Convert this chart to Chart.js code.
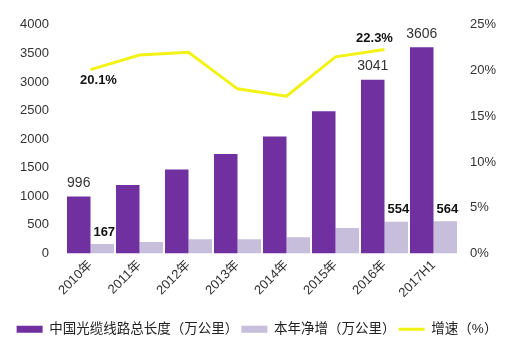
<!DOCTYPE html>
<html>
<head>
<meta charset="utf-8">
<script src="https://cdn.jsdelivr.net/npm/chart.js@4"></script>
<style>
  html, body { margin: 0; padding: 0; background: #fff; }
  #wrap { width: 514px; height: 348px; position: relative; }
</style>
</head>
<body>
<div id="wrap"><canvas id="fiberChart"></canvas></div>
<script>
const years = ['2010年', '2011年', '2012年', '2013年', '2014年', '2015年', '2016年', '2017H1'];
const totalLength = [996, 1200, 1470, 1740, 2046, 2487, 3041, 3606];
const netIncrease = [167, 200, 250, 250, 285, 445, 554, 564];
const growthRate = [20.1, 21.7, 22.0, 18.0, 17.2, 21.5, 22.3, null];

// which points carry a value label
const totalLabelIdx = [0, 6, 7];
const netLabelIdx = [0, 6, 7];
const rateLabelIdx = [0, 6];

const FONT = "Arial, 'Liberation Sans', 'Noto Sans CJK SC', sans-serif";

const valueLabels = {
    id: 'valueLabels',
    afterDatasetsDraw(chart) {
        const ctx = chart.ctx;
        ctx.save();
        ctx.textAlign = 'center';
        ctx.textBaseline = 'middle';

        const totals = chart.getDatasetMeta(0).data;
        ctx.font = '14px ' + FONT;
        ctx.fillStyle = '#333';
        totalLabelIdx.forEach(i => {
            ctx.fillText(totalLength[i], totals[i].x, totals[i].y - 13);
        });

        const nets = chart.getDatasetMeta(1).data;
        ctx.font = 'bold 13px ' + FONT;
        ctx.fillStyle = '#111';
        netLabelIdx.forEach(i => {
            ctx.fillText(netIncrease[i], nets[i].x + 2, nets[i].y - 12);
        });

        const pts = chart.getDatasetMeta(2).data;
        rateLabelIdx.forEach(i => {
            const p = pts[i];
            const dx = i === 0 ? 8 : -10;
            const dy = i === 0 ? 11 : -11;
            ctx.fillText(growthRate[i].toFixed(1) + '%', p.x + dx, p.y + dy);
        });
        ctx.restore();
    }
};

const ctx = document.getElementById('fiberChart').getContext('2d');
new Chart(ctx, {
    data: {
        labels: years,
        datasets: [
            {
                type: 'bar',
                label: '中国光缆线路总长度（万公里）',
                data: totalLength,
                backgroundColor: '#7030a0',
                yAxisID: 'y',
                barPercentage: 1.0,
                categoryPercentage: 0.96,
                pointStyle: 'rect',
                order: 2
            },
            {
                type: 'bar',
                label: '本年净增（万公里）',
                data: netIncrease,
                backgroundColor: '#c6bedb',
                yAxisID: 'y',
                barPercentage: 1.0,
                categoryPercentage: 0.96,
                pointStyle: 'rect',
                order: 2
            },
            {
                type: 'line',
                label: '增速（%）',
                data: growthRate,
                borderColor: '#f2f215',
                backgroundColor: '#f2f215',
                borderWidth: 3,
                pointRadius: 0,
                tension: 0,
                yAxisID: 'y1',
                pointStyle: 'line',
                order: 1
            }
        ]
    },
    options: {
        responsive: true,
        maintainAspectRatio: false,
        animation: false,
        layout: { padding: { top: 12, bottom: 2, left: 0, right: 0 } },
        plugins: {
            tooltip: { enabled: false },
            legend: {
                position: 'bottom',
                labels: {
                    usePointStyle: true,
                    pointStyleWidth: 26,
                    boxHeight: 7,
                    padding: 3,
                    color: '#222',
                    font: { family: FONT, size: 13.5 },
                    sort: (a, b) => a.datasetIndex - b.datasetIndex
                }
            }
        },
        scales: {
            x: {
                grid: { display: false, drawTicks: false },
                border: { display: false },
                ticks: {
                    color: '#333',
                    font: { family: FONT, size: 13 },
                    minRotation: 45,
                    maxRotation: 45,
                    padding: 4
                },
                afterFit: s => { s.height = 66; }
            },
            y: {
                position: 'left',
                min: 0,
                max: 4000,
                grid: { display: false, drawTicks: false },
                border: { display: false },
                ticks: {
                    stepSize: 500,
                    color: '#333',
                    font: { family: FONT, size: 13 },
                    padding: 17,
                    callback: v => String(v)
                },
                afterFit: s => { s.width = 66; }
            },
            y1: {
                position: 'right',
                min: 0,
                max: 25,
                grid: { display: false, drawTicks: false },
                border: { display: false },
                ticks: {
                    stepSize: 5,
                    color: '#333',
                    font: { family: FONT, size: 13 },
                    padding: 12,
                    callback: v => v + '%'
                },
                afterFit: s => { s.width = 56; }
            }
        }
    },
    plugins: [valueLabels]
});
</script>
</body>
</html>
